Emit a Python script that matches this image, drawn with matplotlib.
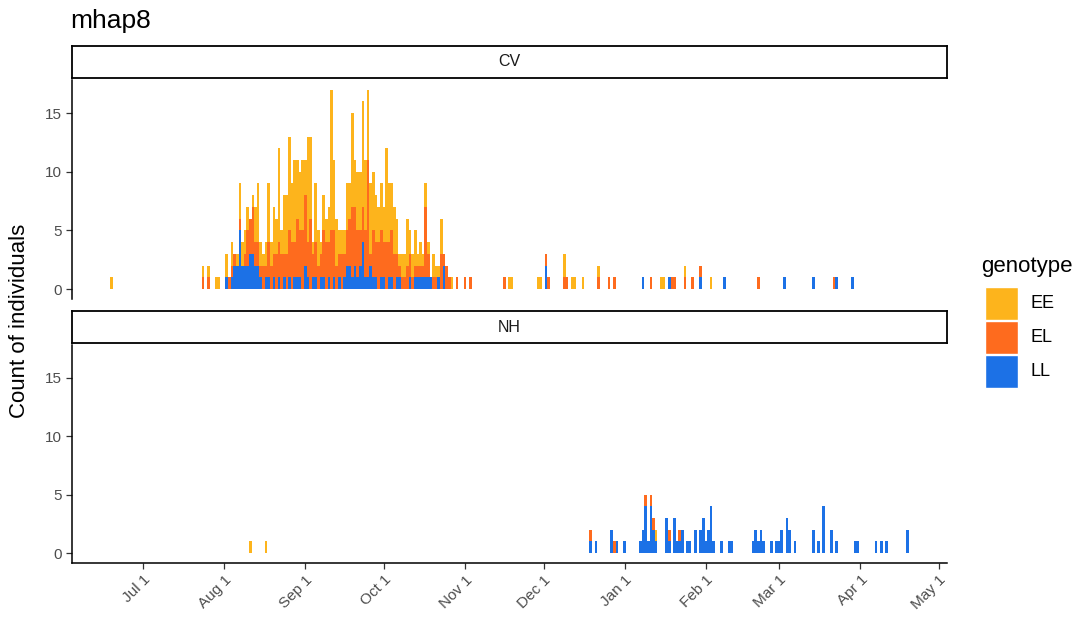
import datetime as dt
import matplotlib
matplotlib.use("Agg")
import matplotlib.pyplot as plt
import matplotlib.dates as mdates
from matplotlib.patches import Rectangle

plt.rcParams["font.family"] = ["Liberation Sans", "DejaVu Sans"]

# Season reference: day offsets below count from this date
season_start = dt.date(2018, 7, 1)

genotypes = ["EE", "EL", "LL"]
genotype_colors = {"EE": "#FDB41C", "EL": "#FE6B1E", "LL": "#1C71E6"}

# ---- CV site: daily counts per genotype ----
cv_day = [-12, 23, 25, 28, 29, 32, 33, 34, 35, 36, 37, 38, 39, 40, 41, 42, 43, 44,
          45, 46, 47, 48, 49, 50, 51, 52, 53, 54, 55, 56, 57, 58, 59, 60, 61, 62,
          63, 64, 65, 66, 67, 68, 69, 70, 71, 72, 73, 74, 75, 76, 77, 78, 79, 80,
          81, 82, 83, 84, 85, 86, 87, 88, 89, 90, 91, 92, 93, 94, 95, 96, 97, 98,
          99, 100, 101, 102, 103, 104, 105, 106, 107, 108, 109, 110, 111, 112, 113,
          114, 115, 116, 117, 118, 120, 123, 125, 138, 140, 141, 151, 152, 154, 155,
          161, 162, 164, 165, 168, 174, 178, 180, 191, 194, 198, 199, 201, 202, 203,
          207, 210, 213, 217, 222, 235, 245, 256, 264, 265, 271]
cv_EE = [1, 1, 1, 1, 1, 2, 0, 2, 0, 1, 3, 2, 2, 2, 0, 1, 3, 5,
         2, 1, 2, 5, 2, 4, 3, 8, 2, 5, 5, 8, 5, 7, 5, 5, 6, 3,
         9, 7, 1, 5, 3, 1, 3, 2, 3, 12, 6, 4, 2, 2, 2, 4, 3, 8,
         4, 5, 5, 9, 6, 6, 6, 5, 4, 3, 4, 3, 8, 5, 4, 4, 3, 1,
         2, 2, 4, 2, 2, 3, 1, 2, 1, 2, 1, 0, 2, 1, 1,
         3, 0, 0, 0, 1, 0, 0, 0, 0, 1, 1, 1, 1, 0, 0,
         2, 0, 1, 1, 1, 1, 0, 0, 0, 0, 1, 1, 0, 0, 0,
         1, 0, 0, 1, 0, 0, 0, 0, 0, 0, 0]
cv_EL = [0, 1, 1, 0, 0, 0, 1, 1, 1, 0, 1, 0, 1, 3, 3, 4, 2, 2,
         1, 2, 1, 3, 2, 2, 3, 3, 3, 2, 3, 4, 4, 3, 5, 4, 5, 6,
         3, 6, 2, 3, 2, 2, 4, 4, 3, 5, 4, 2, 2, 3, 2, 3, 4, 6,
         5, 4, 3, 3, 4, 10, 1, 4, 3, 4, 4, 3, 4, 3, 4, 3, 2, 1,
         1, 1, 2, 2, 1, 1, 1, 1, 1, 6, 2, 0, 1, 1, 0,
         3, 1, 2, 1, 0, 1, 1, 1, 1, 0, 0, 0, 0, 1, 1,
         1, 1, 0, 0, 0, 1, 1, 1, 0, 1, 0, 0, 0, 1, 1,
         1, 1, 1, 0, 0, 1, 0, 0, 1, 0, 0]
cv_LL = [0, 0, 0, 0, 0, 1, 0, 1, 2, 2, 5, 2, 2, 2, 3, 3, 2, 2,
         1, 0, 1, 1, 0, 1, 0, 1, 0, 1, 0, 1, 0, 1, 1, 1, 0, 2,
         1, 0, 1, 1, 0, 1, 1, 0, 1, 0, 1, 0, 1, 0, 1, 2, 2, 1,
         2, 1, 2, 4, 1, 1, 2, 1, 1, 0, 1, 1, 0, 1, 1, 0, 1, 1,
         0, 0, 0, 1, 0, 1, 1, 1, 1, 1, 1, 1, 0, 0, 1,
         0, 2, 0, 0, 0, 0, 0, 0, 0, 0, 0, 0, 0, 2, 0,
         0, 0, 0, 0, 0, 0, 0, 0, 1, 0, 0, 0, 1, 0, 0,
         0, 0, 1, 0, 1, 0, 1, 1, 0, 1, 1]

# ---- NH site: daily counts per genotype ----
nh_day = [41, 47, 171, 173, 179, 180, 181, 184, 190, 191, 192, 193, 194, 195, 196,
          200, 201, 203, 204, 205, 206, 208, 209, 211, 213, 214, 215, 216, 217, 218,
          221, 224, 225, 233, 234, 235, 236, 237, 240, 242, 243, 244, 246, 247, 249,
          256, 258, 260, 263, 265, 272, 273, 280, 282, 284, 292]
nh_EE = [1, 1, 0, 0, 0, 0, 0, 0, 0, 0, 0, 0, 0, 0, 1,
         0, 0, 0, 0, 0, 0, 0, 0, 0, 0, 0, 0, 0, 0, 0,
         0, 0, 0, 0, 0, 0, 0, 0, 0, 0, 0, 0, 0, 0, 0,
         0, 0, 0, 0, 0, 0, 0, 0, 0, 0, 0]
nh_EL = [0, 0, 1, 0, 0, 1, 0, 0, 0, 0, 1, 0, 1, 1, 0,
         0, 1, 0, 0, 1, 0, 0, 0, 0, 0, 0, 0, 0, 0, 0,
         0, 0, 0, 0, 0, 0, 0, 0, 0, 0, 0, 0, 0, 0, 0,
         0, 0, 0, 0, 0, 0, 0, 0, 0, 0, 0]
nh_LL = [0, 0, 1, 1, 2, 0, 1, 1, 1, 2, 4, 1, 4, 2, 1,
         3, 1, 3, 1, 1, 2, 1, 1, 2, 2, 3, 1, 2, 4, 1,
         1, 1, 1, 1, 2, 1, 2, 1, 1, 1, 1, 2, 3, 2, 1,
         2, 1, 4, 2, 1, 1, 1, 1, 1, 1, 2]

tick_labels = ["Jul 1", "Aug 1", "Sep 1", "Oct 1", "Nov 1", "Dec 1",
               "Jan 1", "Feb 1", "Mar 1", "Apr 1", "May 1"]
tick_dates = [dt.date(2018, m, 1) for m in range(7, 13)] + \
             [dt.date(2019, m, 1) for m in range(1, 6)]

W, H = 1085, 626
fig = plt.figure(figsize=(W / 100, H / 100), dpi=100)


def fig_box(x0, y0, x1, y1):
    """Pixel box (top-left origin) to figure-fraction rect."""
    return [x0 / W, 1 - y1 / H, (x1 - x0) / W, (y1 - y0) / H]


def to_num(offsets):
    return [mdates.date2num(season_start + dt.timedelta(days=int(o))) for o in offsets]


xmin = mdates.date2num(season_start) - 27.1
xmax = mdates.date2num(season_start) + 307.1

grey30 = "#4D4D4D"


def draw_panel(ax, days, ee, el, ll, bottom_axis):
    x = to_num(days)
    base = [0] * len(days)
    for name, vals in (("LL", ll), ("EL", el), ("EE", ee)):
        ax.bar(x, vals, width=1.0, bottom=base, color=genotype_colors[name],
               linewidth=0, align="center")
        base = [b + v for b, v in zip(base, vals)]
    ax.set_xlim(xmin, xmax)
    ax.set_ylim(-0.85, 17.85)
    ax.set_yticks([0, 5, 10, 15])
    ax.tick_params(axis="y", labelsize=11, labelcolor=grey30, color="#333333",
                   length=4, width=0.9, pad=3)
    for s in ("top", "right"):
        ax.spines[s].set_visible(False)
    ax.spines["left"].set_linewidth(1.1)
    ax.spines["left"].set_color("black")
    ax.set_xticks([mdates.date2num(d) for d in tick_dates])
    if bottom_axis:
        ax.spines["bottom"].set_linewidth(1.1)
        ax.spines["bottom"].set_color("black")
        ax.set_xticklabels(tick_labels, rotation=45, ha="right", va="top",
                           rotation_mode="anchor")
        ax.tick_params(axis="x", labelsize=11, labelcolor=grey30, color="#333333",
                       length=4, width=0.9, pad=3)
    else:
        ax.spines["bottom"].set_visible(False)
        ax.tick_params(axis="x", bottom=False, labelbottom=False)


def draw_strip(box, label):
    sax = fig.add_axes(fig_box(*box))
    sax.set_xticks([])
    sax.set_yticks([])
    for s in sax.spines.values():
        s.set_linewidth(1.3)
        s.set_color("black")
    sax.text(0.5, 0.5, label, ha="center", va="center", fontsize=11.5,
             color="#1A1A1A", transform=sax.transAxes)


ax_cv = fig.add_axes(fig_box(72, 79.6, 947, 299))
draw_panel(ax_cv, cv_day, cv_EE, cv_EL, cv_LL, bottom_axis=False)
ax_nh = fig.add_axes(fig_box(72, 344.7, 947, 563))
draw_panel(ax_nh, nh_day, nh_EE, nh_EL, nh_LL, bottom_axis=True)

draw_strip((72, 46, 947, 78), "CV")
draw_strip((72, 311, 947, 343), "NH")

fig.text(70 / W, 1 - 21 / H, "mhap8", fontsize=19, ha="left", va="center")
fig.text(20 / W, 1 - 321 / H, "Count of individuals", fontsize=16,
         rotation=90, ha="center", va="center")

# Legend
fig.text(981 / W, 1 - 266 / H, "genotype", fontsize=16, ha="left", va="center")
lax = fig.add_axes(fig_box(980, 285, 1080, 390))
lax.set_xlim(980, 1080)
lax.set_ylim(390, 285)
lax.axis("off")
for i, g in enumerate(genotypes):
    top = 287 + i * 34
    lax.add_patch(Rectangle((985, top), 33, 33, facecolor=genotype_colors[g],
                            edgecolor="white", linewidth=1))
    lax.text(1030, top + 17, g, fontsize=13, ha="left", va="center", color="black")

fig.savefig("out.png", dpi=100)
